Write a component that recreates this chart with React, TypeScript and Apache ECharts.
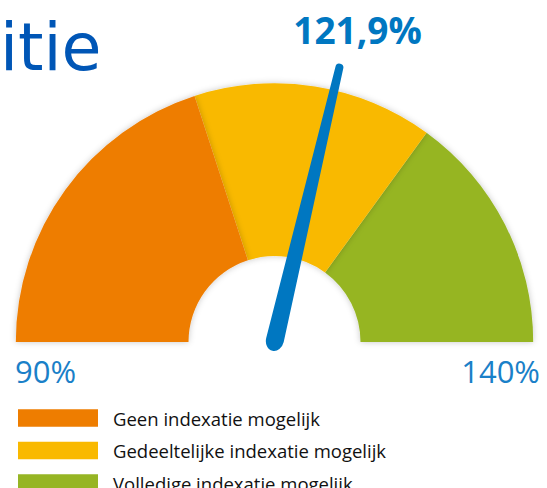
import React, { useEffect, useRef } from "react";
import * as echarts from "echarts";

const scaleMin = 90;
const scaleMax = 140;
const bandLimits = [110, 125, 140];
const bandColors = ["#ee7d00", "#f9b900", "#96b524"];
const bandLabels = [
  "Geen indexatie mogelijk",
  "Gedeeltelijke indexatie mogelijk",
  "Volledige indexatie mogelijk",
];
const needleValue = 118.7;
const reportedValue = 121.9;
const tickLabels = ["90%", "140%"];
const titleFragment = "itie";

export default function App() {
  const ref = useRef<HTMLDivElement>(null);
  useEffect(() => {
    document.body.style.margin = "0";
    const chart = echarts.init(ref.current!, null, { renderer: "svg" });
    const cx = 274.5;
    const cy = 342;
    const R = 258.7;
    const r0 = 86;
    const legendGraphics: any[] = [];
    bandLabels.forEach((label, i) => {
      const yMid = 418 + i * 32.5;
      legendGraphics.push({
        type: "rect",
        shape: { x: 18, y: yMid - 8.75, width: 80, height: 17.5 },
        style: { fill: bandColors[i] },
      });
      legendGraphics.push({
        type: "text",
        x: 113,
        y: yMid,
        style: {
          text: label,
          fontFamily: "Open Sans",
          fontSize: 18.5,
          fill: "#111111",
          align: "left",
          verticalAlign: "middle",
        },
      });
    });
    chart.setOption({
      animation: false,
      series: [
        {
          type: "gauge",
          center: [cx, cy],
          radius: R,
          startAngle: 180,
          endAngle: 0,
          min: scaleMin,
          max: scaleMax,
          splitNumber: 5,
          axisLine: {
            lineStyle: {
              width: R - r0,
              color: bandLimits.map((v, i) => [
                (v - scaleMin) / (scaleMax - scaleMin),
                bandColors[i],
              ]),
              shadowBlur: 6,
              shadowColor: "rgba(0,0,0,0.22)",
            },
          },
          splitLine: { show: false },
          axisTick: { show: false },
          axisLabel: { show: false },
          pointer: {
            icon: "path://M5,4 A4,4 0 0 1 13,4 L18,284 A9,11 0 0 1 0,284 Z",
            width: 18,
            length: 295,
            offsetCenter: [0, 9],
            itemStyle: { color: "#0077c1" },
          },
          anchor: { show: false },
          title: { show: false },
          detail: { show: false },
          data: [{ value: needleValue }],
        },
      ],
      graphic: [
        {
          type: "text",
          x: 0,
          y: 47,
          style: {
            text: titleFragment,
            fontFamily: "DejaVu Sans",
            fontSize: 65,
            fill: "#0056b6",
            align: "left",
            verticalAlign: "middle",
          },
        },
        {
          type: "text",
          x: 357.5,
          y: 29,
          style: {
            text: reportedValue.toFixed(1).replace(".", ",") + "%",
            fontFamily: "Open Sans",
            fontWeight: "bold",
            fontSize: 37,
            fill: "#0077c1",
            align: "center",
            verticalAlign: "middle",
          },
        },
        {
          type: "text",
          x: 15,
          y: 371,
          style: {
            text: tickLabels[0],
            fontFamily: "Open Sans",
            fontSize: 31,
            fill: "#1a80c8",
            align: "left",
            verticalAlign: "middle",
          },
        },
        {
          type: "text",
          x: 540,
          y: 371,
          style: {
            text: tickLabels[1],
            fontFamily: "Open Sans",
            fontSize: 31,
            fill: "#1a80c8",
            align: "right",
            verticalAlign: "middle",
          },
        },
        ...legendGraphics,
      ],
    });
    return () => chart.dispose();
  }, []);
  return <div ref={ref} style={{ width: 547, height: 488 }} />;
}
